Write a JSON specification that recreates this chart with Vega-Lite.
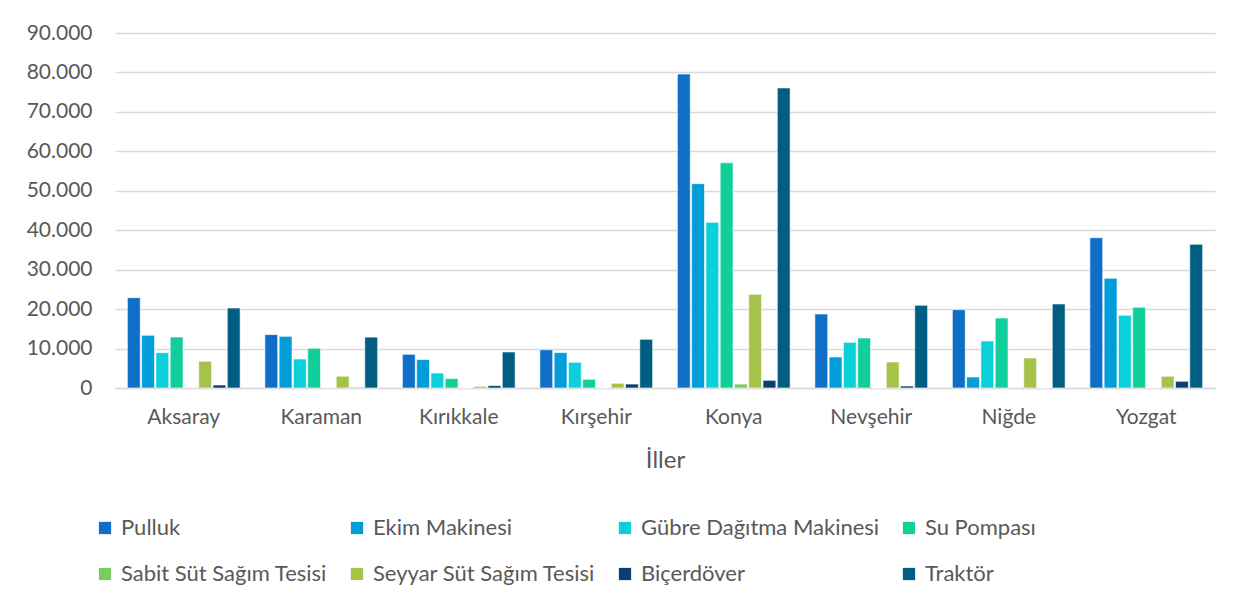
{
  "$schema": "https://vega.github.io/schema/vega-lite/v6.json",
  "width": 1100,
  "height": 355,
  "autosize": {"type": "none"},
  "padding": {"left": 115, "top": 33, "right": 26, "bottom": 219},
  "background": "white",
  "config": {
    "font": "Lato",
    "view": {"stroke": null},
    "axis": {"labelColor": "#595959", "titleColor": "#595959", "labelFont": "Lato", "titleFont": "Lato"}
  },
  "data": {
    "values": [
      {"il": "Aksaray", "tip": "Pulluk", "v": 22900},
      {"il": "Aksaray", "tip": "Ekim Makinesi", "v": 13360},
      {"il": "Aksaray", "tip": "Gübre Dağıtma Makinesi", "v": 8950},
      {"il": "Aksaray", "tip": "Su Pompası", "v": 12930},
      {"il": "Aksaray", "tip": "Sabit Süt Sağım Tesisi", "v": 120},
      {"il": "Aksaray", "tip": "Seyyar Süt Sağım Tesisi", "v": 6770},
      {"il": "Aksaray", "tip": "Biçerdöver", "v": 760},
      {"il": "Aksaray", "tip": "Traktör", "v": 20280},
      {"il": "Karaman", "tip": "Pulluk", "v": 13540},
      {"il": "Karaman", "tip": "Ekim Makinesi", "v": 13100},
      {"il": "Karaman", "tip": "Gübre Dağıtma Makinesi", "v": 7350},
      {"il": "Karaman", "tip": "Su Pompası", "v": 10070},
      {"il": "Karaman", "tip": "Sabit Süt Sağım Tesisi", "v": 0},
      {"il": "Karaman", "tip": "Seyyar Süt Sağım Tesisi", "v": 2970},
      {"il": "Karaman", "tip": "Biçerdöver", "v": 150},
      {"il": "Karaman", "tip": "Traktör", "v": 12900},
      {"il": "Kırıkkale", "tip": "Pulluk", "v": 8540},
      {"il": "Kırıkkale", "tip": "Ekim Makinesi", "v": 7200},
      {"il": "Kırıkkale", "tip": "Gübre Dağıtma Makinesi", "v": 3800},
      {"il": "Kırıkkale", "tip": "Su Pompası", "v": 2380},
      {"il": "Kırıkkale", "tip": "Sabit Süt Sağım Tesisi", "v": 0},
      {"il": "Kırıkkale", "tip": "Seyyar Süt Sağım Tesisi", "v": 430},
      {"il": "Kırıkkale", "tip": "Biçerdöver", "v": 600},
      {"il": "Kırıkkale", "tip": "Traktör", "v": 9130},
      {"il": "Kırşehir", "tip": "Pulluk", "v": 9700},
      {"il": "Kırşehir", "tip": "Ekim Makinesi", "v": 8980},
      {"il": "Kırşehir", "tip": "Gübre Dağıtma Makinesi", "v": 6510},
      {"il": "Kırşehir", "tip": "Su Pompası", "v": 2200},
      {"il": "Kırşehir", "tip": "Sabit Süt Sağım Tesisi", "v": 0},
      {"il": "Kırşehir", "tip": "Seyyar Süt Sağım Tesisi", "v": 1200},
      {"il": "Kırşehir", "tip": "Biçerdöver", "v": 1000},
      {"il": "Kırşehir", "tip": "Traktör", "v": 12340},
      {"il": "Konya", "tip": "Pulluk", "v": 79600},
      {"il": "Konya", "tip": "Ekim Makinesi", "v": 51800},
      {"il": "Konya", "tip": "Gübre Dağıtma Makinesi", "v": 42000},
      {"il": "Konya", "tip": "Su Pompası", "v": 57100},
      {"il": "Konya", "tip": "Sabit Süt Sağım Tesisi", "v": 1000},
      {"il": "Konya", "tip": "Seyyar Süt Sağım Tesisi", "v": 23750},
      {"il": "Konya", "tip": "Biçerdöver", "v": 1950},
      {"il": "Konya", "tip": "Traktör", "v": 76070},
      {"il": "Nevşehir", "tip": "Pulluk", "v": 18760},
      {"il": "Nevşehir", "tip": "Ekim Makinesi", "v": 7860},
      {"il": "Nevşehir", "tip": "Gübre Dağıtma Makinesi", "v": 11580},
      {"il": "Nevşehir", "tip": "Su Pompası", "v": 12680},
      {"il": "Nevşehir", "tip": "Sabit Süt Sağım Tesisi", "v": 0},
      {"il": "Nevşehir", "tip": "Seyyar Süt Sağım Tesisi", "v": 6590},
      {"il": "Nevşehir", "tip": "Biçerdöver", "v": 500},
      {"il": "Nevşehir", "tip": "Traktör", "v": 20960},
      {"il": "Niğde", "tip": "Pulluk", "v": 19860},
      {"il": "Niğde", "tip": "Ekim Makinesi", "v": 2790},
      {"il": "Niğde", "tip": "Gübre Dağıtma Makinesi", "v": 11920},
      {"il": "Niğde", "tip": "Su Pompası", "v": 17750},
      {"il": "Niğde", "tip": "Sabit Süt Sağım Tesisi", "v": 150},
      {"il": "Niğde", "tip": "Seyyar Süt Sağım Tesisi", "v": 7600},
      {"il": "Niğde", "tip": "Biçerdöver", "v": 0},
      {"il": "Niğde", "tip": "Traktör", "v": 21300},
      {"il": "Yozgat", "tip": "Pulluk", "v": 38110},
      {"il": "Yozgat", "tip": "Ekim Makinesi", "v": 27810},
      {"il": "Yozgat", "tip": "Gübre Dağıtma Makinesi", "v": 18430},
      {"il": "Yozgat", "tip": "Su Pompası", "v": 20460},
      {"il": "Yozgat", "tip": "Sabit Süt Sağım Tesisi", "v": 0},
      {"il": "Yozgat", "tip": "Seyyar Süt Sağım Tesisi", "v": 2970},
      {"il": "Yozgat", "tip": "Biçerdöver", "v": 1700},
      {"il": "Yozgat", "tip": "Traktör", "v": 36430}
    ]
  },
  "mark": {"type": "bar", "stroke": "white", "strokeWidth": 0.6},
  "encoding": {
    "x": {
      "field": "il",
      "type": "nominal",
      "sort": null,
      "scale": {"paddingInner": 0.18, "paddingOuter": 0.09},
      "axis": {
        "title": "İller",
        "titleFontSize": 24,
        "titleFontWeight": "normal",
        "titlePadding": 21,
        "labelAngle": 0,
        "labelFontSize": 21,
        "labelPadding": 18,
        "ticks": false,
        "domainColor": "#D9D9D9",
        "domainWidth": 1.5
      }
    },
    "xOffset": {
      "field": "tip",
      "type": "nominal",
      "sort": ["Pulluk", "Ekim Makinesi", "Gübre Dağıtma Makinesi", "Su Pompası", "Sabit Süt Sağım Tesisi", "Seyyar Süt Sağım Tesisi", "Biçerdöver", "Traktör"],
      "scale": {"paddingInner": 0.1, "paddingOuter": 0}
    },
    "y": {
      "field": "v",
      "type": "quantitative",
      "scale": {"domain": [0, 90000], "nice": false},
      "axis": {
        "title": null,
        "values": [0, 10000, 20000, 30000, 40000, 50000, 60000, 70000, 80000, 90000],
        "labelExpr": "replace(format(datum.value, ','), ',', '.')",
        "labelFontSize": 21,
        "labelPadding": 23,
        "ticks": false,
        "domain": false,
        "gridColor": "#D9D9D9",
        "gridWidth": 1.5
      }
    },
    "color": {
      "field": "tip",
      "type": "nominal",
      "scale": {
        "domain": ["Pulluk", "Ekim Makinesi", "Gübre Dağıtma Makinesi", "Su Pompası", "Sabit Süt Sağım Tesisi", "Seyyar Süt Sağım Tesisi", "Biçerdöver", "Traktör"],
        "range": ["#0F6FC6", "#009DD9", "#0BD0D9", "#10CF9B", "#7CCA62", "#A5C249", "#0B3F73", "#005E82"]
      },
      "legend": {
        "title": null,
        "orient": "none",
        "legendX": -21,
        "legendY": 484,
        "direction": "horizontal",
        "columns": 4,
        "columnPadding": 18,
        "rowPadding": 24,
        "symbolType": "square",
        "symbolSize": 150,
        "symbolStrokeWidth": 0,
        "labelFontSize": 22,
        "labelColor": "#595959",
        "labelOffset": 5,
        "labelLimit": 400
      }
    }
  }
}
